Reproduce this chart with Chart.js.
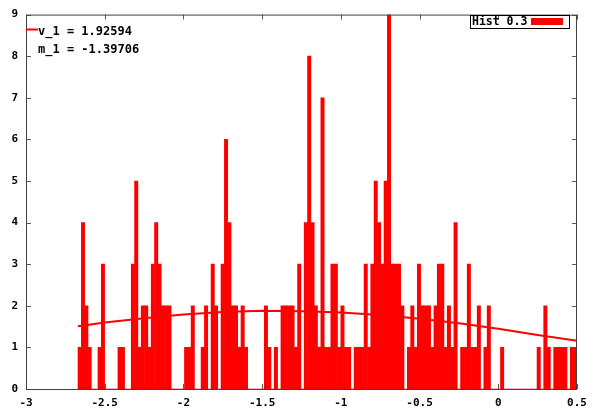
<!DOCTYPE html>
<html>
<head>
<meta charset="utf-8">
<script src="https://cdn.jsdelivr.net/npm/chart.js@4.4.0/dist/chart.umd.min.js"></script>
<style>
    html, body { margin: 0; padding: 0; background: #fff; }
</style>
</head>
<body>
<canvas id="myChart" width="597" height="412"></canvas>
<script>
// histogram bins, all the same width
const binStart = -2.6696;
const binWidth = 0.02113;
const counts = [
    1, 4, 2, 1, 0, 0, 1, 3, 0, 0,
    0, 0, 1, 1, 0, 0, 3, 5, 1, 2,
    2, 1, 3, 4, 3, 2, 2, 2, 0, 0,
    0, 0, 1, 1, 2, 0, 0, 1, 2, 0,
    3, 2, 0, 3, 6, 4, 2, 2, 1, 2,
    1, 0, 0, 0, 0, 0, 2, 1, 0, 1,
    0, 2, 2, 2, 2, 1, 3, 0, 4, 8,
    4, 2, 1, 7, 1, 1, 3, 3, 1, 2,
    1, 1, 0, 1, 1, 1, 3, 1, 3, 5,
    4, 3, 5, 9, 3, 3, 3, 2, 0, 1,
    2, 1, 3, 2, 2, 2, 1, 2, 3, 3,
    1, 2, 1, 4, 0, 1, 1, 3, 1, 1,
    2, 0, 1, 2, 0, 0, 0, 1, 0, 0,
    0, 0, 0, 0, 0, 0, 0, 0, 1, 0,
    2, 1, 0, 1, 1, 1, 1, 0, 1, 1
];

// fitted curve
const fitX = [-2.67, -2.5, -2.25, -2.0, -1.75, -1.5, -1.25, -1.0, -0.75, -0.5, -0.25, 0, 0.25, 0.5];
const fitY = [1.51, 1.60, 1.70, 1.79, 1.85, 1.88, 1.87, 1.84, 1.78, 1.69, 1.58, 1.45, 1.30, 1.16];

const fitText = ["v_1 = 1.92594", "m_1 = -1.39706"];
const histLabel = "Hist 0.3";

const xMin = -3, xMax = 0.5, xStep = 0.5;
const yMin = 0, yMax = 9, yStep = 1;

const monoFont = "'DejaVu Sans Mono', monospace";

const histData = counts.map((c, i) => ({ x: binStart + (i + 0.5) * binWidth, y: c }));
const fitData = fitX.map((x, i) => ({ x: x, y: fitY[i] }));

// inward ticks on all four sides, like gnuplot
const tickMarks = {
    id: "tickMarks",
    beforeDatasetsDraw(chart) {
        const c = chart.ctx;
        const a = chart.chartArea;
        c.save();
        c.strokeStyle = "#5a5a5a";
        c.lineWidth = 1;
        c.beginPath();
        chart.scales.x.ticks.forEach(t => {
            const px = Math.round(chart.scales.x.getPixelForValue(t.value)) + 0.5;
            c.moveTo(px, a.bottom); c.lineTo(px, a.bottom - 5);
            c.moveTo(px, a.top); c.lineTo(px, a.top + 5);
        });
        chart.scales.y.ticks.forEach(t => {
            const py = Math.round(chart.scales.y.getPixelForValue(t.value)) + 0.5;
            c.moveTo(a.left, py); c.lineTo(a.left + 5, py);
            c.moveTo(a.right, py); c.lineTo(a.right - 5, py);
        });
        c.stroke();
        c.restore();
    },
    afterDraw(chart) {
        const c = chart.ctx;
        const a = chart.chartArea;
        c.save();
        // frame
        c.strokeStyle = "#404040";
        c.lineWidth = 1;
        c.strokeRect(a.left + 0.5, a.top + 0.5, a.right - a.left - 1, a.bottom - a.top);

        // fit parameters, top left
        c.strokeStyle = "#ff0000";
        c.lineWidth = 2;
        c.beginPath();
        c.moveTo(a.left, 29.5);
        c.lineTo(a.left + 12, 29.5);
        c.stroke();
        c.fillStyle = "#000";
        c.font = "bold 12px " + monoFont;
        c.textBaseline = "middle";
        c.textAlign = "left";
        c.fillText(fitText[0], 38, 32);
        c.fillText(fitText[1], 38, 50);

        // legend box, top right
        c.strokeStyle = "#000";
        c.lineWidth = 1;
        c.strokeRect(470.5, 15.5, 99, 13);
        c.font = "bold 11.5px " + monoFont;
        c.fillText(histLabel, 472, 22.5);
        c.fillStyle = "#ff0000";
        c.fillRect(531, 18, 32, 7);
        c.restore();
    }
};

var ctx = document.getElementById('myChart').getContext('2d');
var chart = new Chart(ctx, {
    type: 'bar',
    data: {
        datasets: [{
            type: 'bar',
            label: histLabel,
            data: histData,
            backgroundColor: '#ff0000',
            borderWidth: 0,
            barPercentage: 1,
            categoryPercentage: 1,
            order: 2
        }, {
            type: 'line',
            label: 'fit',
            data: fitData,
            borderColor: '#ff0000',
            borderWidth: 2,
            pointRadius: 0,
            tension: 0,
            fill: false,
            order: 1
        }]
    },
    options: {
        responsive: false,
        animation: false,
        devicePixelRatio: 1,
        layout: { padding: { top: 12, right: 20, left: 0, bottom: 0 } },
        plugins: {
            legend: { display: false },
            tooltip: { enabled: false }
        },
        scales: {
            x: {
                type: 'linear',
                min: xMin,
                max: xMax,
                offset: false,
                grid: { display: false, drawTicks: false },
                border: { display: false },
                ticks: {
                    stepSize: xStep,
                    color: '#000',
                    padding: 8,
                    maxRotation: 0,
                    autoSkip: false,
                    font: { family: monoFont, size: 11, weight: 'bold' },
                    // gnuplot style: -3 not -3.0
                    callback: v => String(Math.round(v * 10) / 10)
                },
                afterFit: s => { s.height = 23; }
            },
            y: {
                min: yMin,
                max: yMax,
                grid: { display: false, drawTicks: false },
                border: { display: false },
                ticks: {
                    stepSize: yStep,
                    color: '#000',
                    padding: 8,
                    font: { family: monoFont, size: 11, weight: 'bold' }
                },
                afterFit: s => { s.width = 26; }
            }
        }
    },
    plugins: [tickMarks]
});
</script>
</body>
</html>
